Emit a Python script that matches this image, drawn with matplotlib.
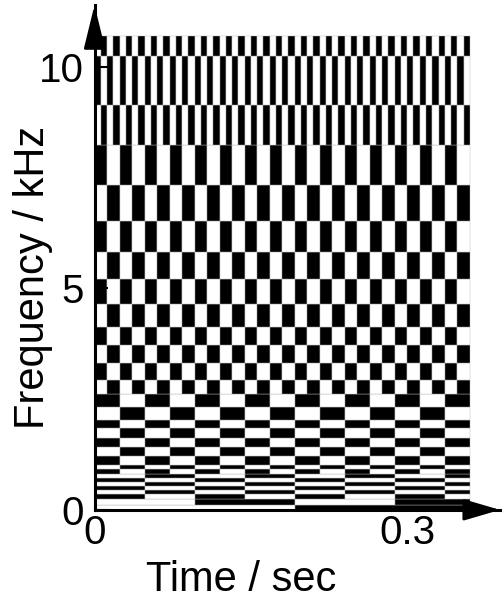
import numpy as np
import matplotlib
matplotlib.use('Agg')
import matplotlib.pyplot as plt

plt.rcParams['font.family'] = ['Liberation Sans', 'DejaVu Sans']

# frequency band edges (kHz), bottom to top
band_edges = [0, 0.11, 0.235, 0.36, 0.45, 0.54, 0.63, 0.72, 0.81, 0.92, 1.01,
              1.22, 1.42, 1.62, 1.85, 2.03, 2.32, 2.62, 2.93, 3.31, 3.72,
              4.13, 4.65, 5.21, 5.82, 6.52, 7.34, 8.23, 9.14, 10.24, 10.69]
# time width of one tile in each band (s)
cell_width = [0.192, 0.096,
              0.048, 0.048, 0.048, 0.048, 0.048, 0.048,
              0.024, 0.024, 0.024, 0.024, 0.024, 0.024, 0.024, 0.024, 0.024,
              0.012, 0.012, 0.012, 0.012, 0.012, 0.012, 0.012, 0.012, 0.012, 0.012,
              0.006, 0.006, 0.006]
# is the first tile of the band black
first_black = [0, 0,
               1, 0, 1, 0, 1, 0,
               1, 0, 1, 0, 1, 0, 1, 0, 1,
               0, 1, 0, 1, 0, 1, 0, 1, 0, 1,
               0, 1, 0]
duration = 0.36

x_ticks = [0, 0.3]
x_ticklabels = ['0', '0.3']
y_ticks = [0, 5, 10]

fig = plt.figure(figsize=(5.04, 6.01), dpi=100)
ax = fig.add_axes([0.1875, 0.1516, 0.8046, 0.840])

for k in range(len(cell_width)):
    lo, hi = band_edges[k], band_edges[k + 1]
    w = cell_width[k]
    starts = np.arange(0, duration - 1e-9, w)
    spans = [(s, min(w, duration - s)) for s in starts]
    colors = []
    for j in range(len(spans)):
        black = (j % 2 == 0) == bool(first_black[k])
        colors.append('black' if black else 'white')
    ax.broken_barh(spans, (lo, hi - lo), facecolors=colors,
                   edgecolor='#b4b4b4', linewidth=0.3)

ax.set_xlim(0, 0.389)
ax.set_ylim(0, 11.39)

for s in ['top', 'right']:
    ax.spines[s].set_visible(False)
for s in ['left', 'bottom']:
    ax.spines[s].set_linewidth(2.2)
    ax.spines[s].set_zorder(5)

ax.set_xticks(x_ticks)
ax.set_xticklabels(x_ticklabels)
ax.set_yticks(y_ticks)
ax.tick_params(axis='y', direction='in', length=9, width=1.5, labelsize=29, pad=8)
ax.tick_params(axis='x', direction='in', length=3, width=1.5, labelsize=29, pad=3)

# arrow heads on the axes
ax.annotate('', xy=(0, 1), xytext=(0, 0.93), xycoords='axes fraction',
            arrowprops=dict(arrowstyle='-|>,head_length=0.9,head_width=0.22',
                            mutation_scale=30, color='k', lw=2.0,
                            shrinkA=0, shrinkB=0), annotation_clip=False)
ax.annotate('', xy=(1, 0), xytext=(0.92, 0), xycoords='axes fraction',
            arrowprops=dict(arrowstyle='-|>,head_length=0.75,head_width=0.22',
                            mutation_scale=30, color='k', lw=2.0,
                            shrinkA=0, shrinkB=0), annotation_clip=False)

fig.text(33 / 504, 1 - 277 / 601, 'Frequency / kHz', rotation=90,
         ha='center', va='center', fontsize=30)
fig.text(241 / 504, 1 - 580 / 601, 'Time / sec', ha='center', va='center',
         fontsize=30)

fig.savefig('out.png', dpi=100)
